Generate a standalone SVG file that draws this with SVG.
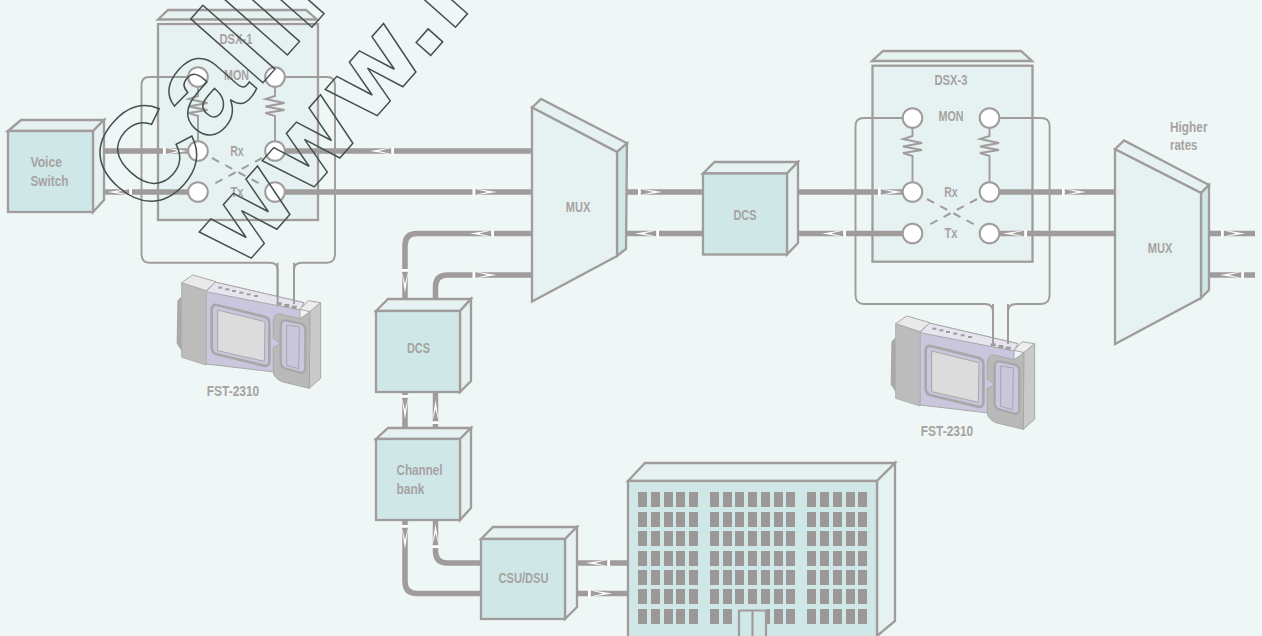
<svg xmlns="http://www.w3.org/2000/svg" xmlns:xlink="http://www.w3.org/1999/xlink" width="1262" height="636" viewBox="0 0 1262 636">
<style>
.bg{fill:#eef7f6}
.s{stroke:#a09c9c;stroke-width:2.300;stroke-linejoin:miter}
.p{fill:#e6f2f1}
.m{fill:#cfe8e7}
.thin{fill:none;stroke:#a09c9c;stroke-width:1.900}
.thick{fill:none;stroke:#a09c9c;stroke-width:5.500}
.dash{fill:none;stroke:#a09c9c;stroke-width:2;stroke-dasharray:8 7}
.c{fill:#fff;stroke:#a09c9c;stroke-width:2}
.t{font-family:"Liberation Sans",Arial,sans-serif;font-weight:700;font-size:15.500px;fill:#a6a2a2;text-anchor:middle}
.l{text-anchor:start}
.w{fill:#9c9898}
.wm{font-weight:700;fill:none;stroke:#46504f;stroke-width:1.500}
</style>
<defs>
<g id="a"><polygon points="-1,-3.800 1,-3.800 1,-3.400 23,0 1,3.400 1,3.800 -1,3.800" fill="#fff"/><polygon points="1.800,-3.100 14,0 1.800,3.100" fill="#a09c9c"/></g>
<g id="row">
<rect x="638" width="9" height="15" class="w"/><rect x="651" width="9" height="15" class="w"/><rect x="664" width="9" height="15" class="w"/><rect x="676" width="9" height="15" class="w"/><rect x="689" width="9" height="15" class="w"/>
<rect x="710" width="9" height="15" class="w"/><rect x="723" width="9" height="15" class="w"/><rect x="735" width="9" height="15" class="w"/><rect x="748" width="9" height="15" class="w"/><rect x="761" width="9" height="15" class="w"/><rect x="774" width="9" height="15" class="w"/><rect x="786" width="9" height="15" class="w"/>
<rect x="807" width="9" height="15" class="w"/><rect x="820" width="9" height="15" class="w"/><rect x="833" width="9" height="15" class="w"/><rect x="846" width="9" height="15" class="w"/><rect x="858" width="9" height="15" class="w"/>
</g>
<g id="fst" transform="scale(.3333)">
<path d="M68 105L52 122L50 250L68 278L140 315Z" fill="#a9a9a9"/>
<polygon points="138,95 165,66 432,128 420,150 420,345 138,312" fill="#c9c6dd" stroke="#a8a8a8" stroke-width="3"/>
<polygon points="138,95 165,66 432,128 420,150" fill="#e6e4ee" stroke="#a8a8a8" stroke-width="3"/>
<polygon points="65,68 138,92 138,315 65,292" fill="#bcbcbc" stroke="#b0b0b0" stroke-width="3"/>
<polygon points="65,68 98,45 168,65 138,92" fill="#e9e9e9" stroke="#a8a8a8" stroke-width="3"/>
<path d="M170 135L312 170Q328 174 328 190L328 305Q328 320 312 317L170 283Q155 279 155 262L155 150Q155 132 170 135Z" fill="#c9c6dd" stroke="#a8a8a8" stroke-width="8"/>
<polygon points="173,150 315,185 313,304 173,272" fill="#dcdcdc" stroke="#a8a8a8" stroke-width="3"/>
<path d="M360 162L420 176L450 155L448 385L365 365Q340 352 340 335L340 262Q352 260 360 250Q350 240 340 235L340 185Q342 160 360 162Z" fill="#b9b9b9" stroke="#a8a8a8" stroke-width="3"/>
<path d="M380 182L420 190Q436 194 436 210L436 322Q436 342 418 337L380 327Q362 322 362 305L362 200Q362 178 380 182Z" fill="#c9c6dd" stroke="#a8a8a8" stroke-width="7"/>
<polygon points="380,195 418,201 416,326 380,316" fill="#c9c6dd" stroke="#a8a8a8" stroke-width="3"/>
<polygon points="420,148 445,122 482,128 450,155" fill="#ededed" stroke="#a8a8a8" stroke-width="3"/>
<polygon points="450,155 482,128 482,355 448,385" fill="#c9c9c9" stroke="#a8a8a8" stroke-width="3"/>
<g fill="#a09c9c"><rect x="175" y="80" width="12" height="6"/><rect x="196" y="85" width="12" height="6"/><rect x="216" y="90" width="12" height="6"/><rect x="238" y="95" width="12" height="6"/><rect x="260" y="100" width="12" height="6"/><rect x="282" y="105" width="12" height="6"/>
<rect x="350" y="127" width="15" height="9"/><rect x="373" y="132" width="15" height="9"/><rect x="395" y="137" width="15" height="9"/></g>
</g>
</defs>
<rect class="bg" width="1262" height="636"/>

<g id="dsx1">
<polygon class="s p" points="158,19.500 168,10 306,10 317,19.500"/>
<rect class="s p" x="158" y="24" width="160" height="196"/>
<text class="t" x="236" y="44" textLength="33" lengthAdjust="spacingAndGlyphs">DSX-1</text>
<text class="t" x="236.500" y="80" textLength="25" lengthAdjust="spacingAndGlyphs">MON</text>
<text class="t" x="237" y="156" textLength="13.500" lengthAdjust="spacingAndGlyphs">Rx</text>
<text class="t" x="237" y="196.500" textLength="13" lengthAdjust="spacingAndGlyphs">Tx</text>
</g>
<g id="dsx3">
<polygon class="s p" points="872,61 883,51 1021,51 1032,61"/>
<rect class="s p" x="872.500" y="65.700" width="160" height="196"/>
<text class="t" x="951" y="85" textLength="33" lengthAdjust="spacingAndGlyphs">DSX-3</text>
<text class="t" x="951" y="121" textLength="25" lengthAdjust="spacingAndGlyphs">MON</text>
<text class="t" x="951" y="196.500" textLength="13.500" lengthAdjust="spacingAndGlyphs">Rx</text>
<text class="t" x="951" y="238" textLength="13" lengthAdjust="spacingAndGlyphs">Tx</text>
</g>

<g id="connectors">
<path class="thin" d="M198 77H149Q141.500 77 141.500 85V254Q141.500 262.700 149 262.700H270Q277.600 262.700 277.600 270V304"/>
<path class="thin" d="M275 77H327Q335 77 335 85V254Q335 262.700 327 262.700H302Q294 262.700 294 270V304"/>
<path class="thin" d="M198 77V96L188.500 99L207.500 103L188.500 106.500L207.500 110L188.500 113L198 116V151"/>
<path class="thin" d="M275 77V96L265.500 99L284.500 103L265.500 106.500L284.500 110L265.500 113L275 116V151"/>
<path class="dash" d="M212 158L262 185M262 158L212 185"/>
<path class="thin" d="M912.500 118H864Q855.500 118 855.500 126V295Q855.500 304 864 304H985Q993 304 993 312V344"/>
<path class="thin" d="M989.500 118H1041Q1049.600 118 1049.600 126V295Q1049.600 304 1041 304H1016Q1008 304 1008 312V344"/>
<path class="thin" d="M912.500 117V136L903 139L922 143L903 146.500L922 150L903 153L912.500 156V192"/>
<path class="thin" d="M989.500 117V136L980 139L999 143L980 146.500L999 150L980 153L989.500 156V192"/>
<path class="dash" d="M927 199L977 226M977 199L927 226"/>

<path class="thick" d="M104 151H198M104 192H198M275 151H532M275 192H532"/>
<path class="thick" d="M532 233.500H417Q405 233.500 405 245.500V299"/>
<path class="thick" d="M532 275H447.500Q435.500 275 435.500 287V299"/>
<path class="thick" d="M627 192H703M627 233.500H703"/>
<path class="thick" d="M798 192H912M798 233.500H912"/>
<path class="thick" d="M989 192H1115M989 233.500H1115"/>
<path class="thick" d="M1209 233.500H1255M1209 275H1255"/>
<path class="thick" d="M405 392V428M435.500 392V428"/>
<path class="thick" d="M405 520V581.500Q405 593.500 417 593.500H481"/>
<path class="thick" d="M435.500 520V551Q435.500 563 447.500 563H481"/>
<path class="thick" d="M577 563H628M577 593.500H628"/>

<use xlink:href="#a" href="#a" transform="translate(164,151)"/>
<use xlink:href="#a" href="#a" transform="translate(131,192) rotate(180)"/>
<use xlink:href="#a" href="#a" transform="translate(393,151) rotate(180)"/>
<use xlink:href="#a" href="#a" transform="translate(473.500,192)"/>
<use xlink:href="#a" href="#a" transform="translate(493,233.500) rotate(180)"/>
<use xlink:href="#a" href="#a" transform="translate(473.500,275)"/>
<use xlink:href="#a" href="#a" transform="translate(405,270) rotate(90)"/>
<use xlink:href="#a" href="#a" transform="translate(639,192)"/>
<use xlink:href="#a" href="#a" transform="translate(658,233.500) rotate(180)"/>
<use xlink:href="#a" href="#a" transform="translate(879,192)"/>
<use xlink:href="#a" href="#a" transform="translate(845,233.500) rotate(180)"/>
<use xlink:href="#a" href="#a" transform="translate(1063,192)"/>
<use xlink:href="#a" href="#a" transform="translate(1026,233.500) rotate(180)"/>
<use xlink:href="#a" href="#a" transform="translate(1222,233.500)"/>
<use xlink:href="#a" href="#a" transform="translate(1243,275) rotate(180)"/>
<use xlink:href="#a" href="#a" transform="translate(405,396) rotate(90)"/>
<use xlink:href="#a" href="#a" transform="translate(435.500,423) rotate(-90)"/>
<use xlink:href="#a" href="#a" transform="translate(405,526) rotate(90)"/>
<use xlink:href="#a" href="#a" transform="translate(435.500,547) rotate(-90)"/>
<use xlink:href="#a" href="#a" transform="translate(609,563) rotate(180)"/>
<use xlink:href="#a" href="#a" transform="translate(589,593.500)"/>
</g>

<g id="dsx1-jacks">
<circle class="c" cx="198" cy="77" r="9.800"/><circle class="c" cx="275" cy="77" r="9.800"/>
<circle class="c" cx="198" cy="151" r="9.800"/><circle class="c" cx="275" cy="151" r="9.800"/>
<circle class="c" cx="198" cy="192" r="9.800"/><circle class="c" cx="275" cy="192" r="9.800"/>
</g>
<g id="dsx3-jacks">
<circle class="c" cx="912.500" cy="118" r="9.800"/><circle class="c" cx="989.500" cy="118" r="9.800"/>
<circle class="c" cx="912.500" cy="192" r="9.800"/><circle class="c" cx="989.500" cy="192" r="9.800"/>
<circle class="c" cx="912.500" cy="233.500" r="9.800"/><circle class="c" cx="989.500" cy="233.500" r="9.800"/>
</g>

<g id="voice-switch">
<polygon class="s p" points="8,131 21,120 104,120 93,131"/>
<polygon class="s p" points="93,131 104,120 104,200 93,212"/>
<rect class="s m" x="8" y="131" width="85" height="81"/>
<text class="t l" x="30.500" y="166.700" textLength="31.500" lengthAdjust="spacingAndGlyphs">Voice</text>
<text class="t l" x="30.500" y="186" textLength="38" lengthAdjust="spacingAndGlyphs">Switch</text>
</g>
<g id="mux-1">
<polygon class="s p" points="532,107.500 541,99 627,143.300 617,152"/>
<polygon class="s m" points="617,152 627,143.300 626,249 617,256"/>
<polygon class="s p" points="532,107.500 617,152 617,256 532,301.500"/>
<text class="t" x="578" y="211.500" textLength="24.500" lengthAdjust="spacingAndGlyphs">MUX</text>
</g>
<g id="dcs-1">
<polygon class="s p" points="703,173.500 714.500,162 798,162 787,173.500"/>
<polygon class="s p" points="787,173.500 798,162 798,243 787,254.500"/>
<rect class="s m" x="703" y="173.500" width="84" height="81"/>
<text class="t" x="745" y="220" textLength="23" lengthAdjust="spacingAndGlyphs">DCS</text>
</g>
<g id="mux-2">
<polygon class="s p" points="1115,149.300 1124,140.500 1209,185 1201,193"/>
<polygon class="s m" points="1201,193 1209,185 1209,290 1201,298"/>
<polygon class="s p" points="1115,149.300 1201,193 1201,298 1115,344"/>
<text class="t" x="1160" y="253" textLength="24.500" lengthAdjust="spacingAndGlyphs">MUX</text>
<text class="t l" x="1170" y="131.700" textLength="37.500" lengthAdjust="spacingAndGlyphs">Higher</text>
<text class="t l" x="1170" y="150" textLength="27.500" lengthAdjust="spacingAndGlyphs">rates</text>
</g>
<g id="dcs-2">
<polygon class="s p" points="376,311 388,299 471,299 460,311"/>
<polygon class="s p" points="460,311 471,299 471,381 460,392"/>
<rect class="s m" x="376" y="311" width="84" height="81"/>
<text class="t" x="418.500" y="352.500" textLength="23" lengthAdjust="spacingAndGlyphs">DCS</text>
</g>
<g id="channel-bank">
<polygon class="s p" points="376,439 388,428 471,428 460,439"/>
<polygon class="s p" points="460,439 471,428 471,508 460,520"/>
<rect class="s m" x="376" y="439" width="84" height="81"/>
<text class="t l" x="396.500" y="475" textLength="46" lengthAdjust="spacingAndGlyphs">Channel</text>
<text class="t l" x="396.500" y="493.500" textLength="28" lengthAdjust="spacingAndGlyphs">bank</text>
</g>
<g id="csu-dsu">
<polygon class="s p" points="481,539 493,527 577,527 565,539"/>
<polygon class="s p" points="565,539 577,527 577,607 565,619"/>
<rect class="s m" x="481" y="539" width="84" height="80"/>
<text class="t" x="523.500" y="583" textLength="50" lengthAdjust="spacingAndGlyphs">CSU/DSU</text>
</g>
<g id="building">
<polygon class="s p" points="628,481 645,463 895,463 877,481"/>
<polygon class="s p" points="877,481 895,463 895,621 877,636"/>
<rect class="s m" x="628" y="481" width="249" height="160"/>
<use xlink:href="#row" href="#row" y="492"/>
<use xlink:href="#row" href="#row" y="512"/>
<use xlink:href="#row" href="#row" y="531"/>
<use xlink:href="#row" href="#row" y="551"/>
<use xlink:href="#row" href="#row" y="570"/>
<use xlink:href="#row" href="#row" y="589"/>
<use xlink:href="#row" href="#row" y="609"/>
<rect x="735" y="605" width="32" height="31" fill="#cfe8e7"/>
<path d="M739 636V610.500H766V636M752.500 610.500V636" fill="none" stroke="#a09c9c" stroke-width="2.200"/>
</g>
<g id="fst-1">
<use xlink:href="#fst" href="#fst" transform="translate(160,260)"/>
<text class="t" x="233" y="396" textLength="52.500" lengthAdjust="spacingAndGlyphs">FST-2310</text>
</g>
<g id="fst-2">
<use xlink:href="#fst" href="#fst" transform="translate(874,301)"/>
<text class="t" x="947" y="436" textLength="52.500" lengthAdjust="spacingAndGlyphs">FST-2310</text>
</g>
<g id="connector-ports">
<path class="thin" d="M277.600 262.700V304M294 262.700V304M993 304V344M1008 304V344"/>
</g>
<g id="watermark">
<text class="wm" font-family="'Liberation Sans',Arial,sans-serif" font-size="133" transform="translate(144,217) rotate(-48.500)"><tspan dy="7">C</tspan><tspan dy="-7">alllo</tspan></text>
<text class="wm" font-family="'DejaVu Sans',sans-serif" font-size="103" transform="translate(239,272) rotate(-48.500)">www.l</text>
</g>
</svg>
